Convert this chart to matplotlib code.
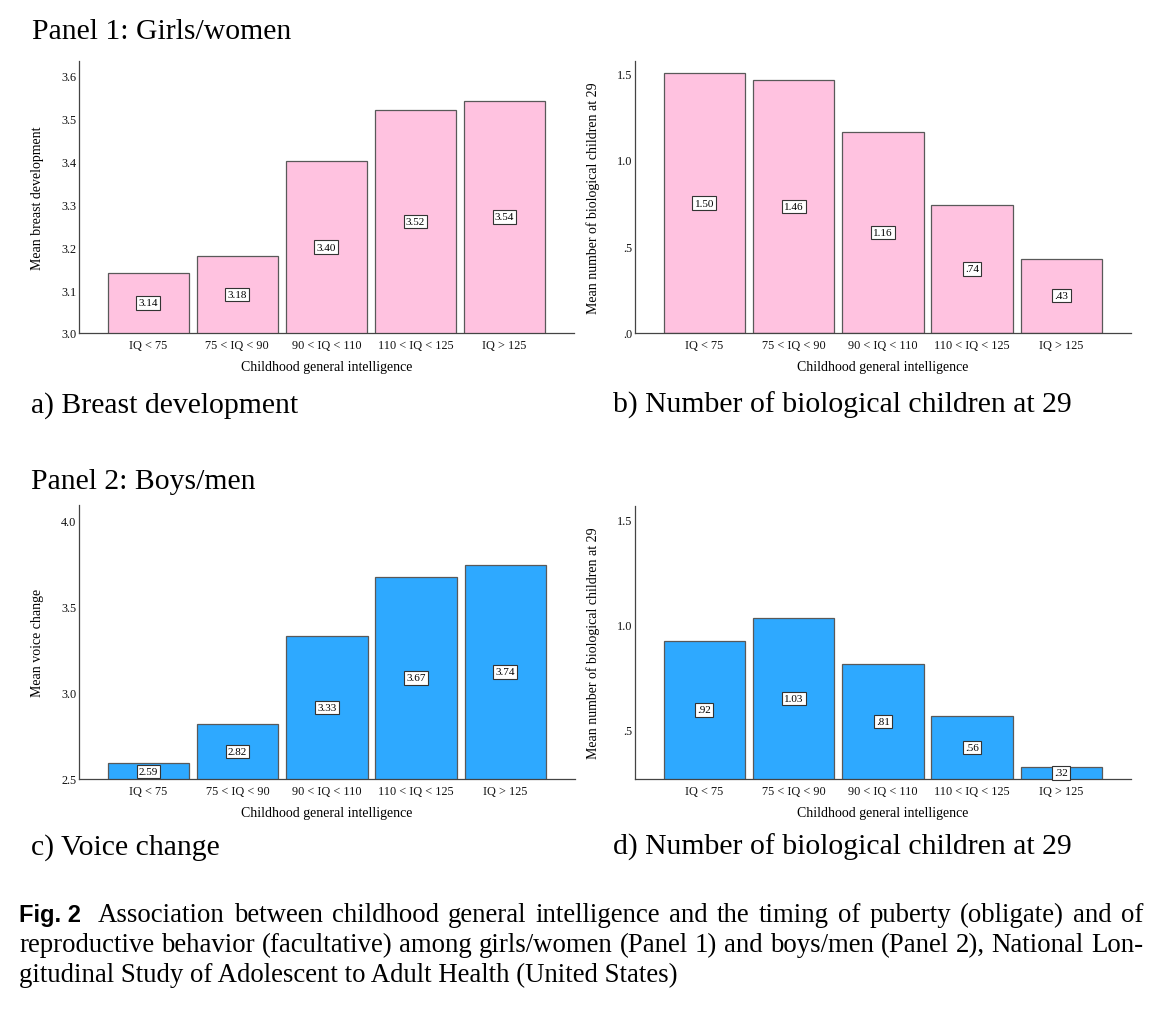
import numpy as np
import matplotlib
matplotlib.use('Agg')
import matplotlib.pyplot as plt

plt.rcParams['font.family'] = ['Liberation Serif', 'DejaVu Serif']

# Data
CATEGORIES = ['IQ < 75', '75 < IQ < 90', '90 < IQ < 110', '110 < IQ < 125', 'IQ > 125']
BREAST = [3.14, 3.18, 3.40, 3.52, 3.54]
CHILDREN_GIRLS = [1.50, 1.46, 1.16, 0.74, 0.43]
VOICE = [2.59, 2.82, 3.33, 3.67, 3.74]
CHILDREN_BOYS = [0.92, 1.03, 0.81, 0.56, 0.32]

PINK = '#ffc2e0'
BLUE = '#2ea9ff'
EDGE = '#595959'

W, H = 1162, 1012
fig = plt.figure(figsize=(W / 100, H / 100), dpi=100)


def px_axes(left, top, right, bottom):
    """Axes from pixel box (top-left origin)"""
    return fig.add_axes([left / W, 1 - bottom / H, (right - left) / W, (bottom - top) / H])


def fmt(v):
    s = f'{v:.2f}'
    return s[1:] if s.startswith('0') else s


def fmt_tick(v):
    s = f'{v:.1f}'
    return s[1:] if s.startswith('0') else s


def bar_panel(ax, values, color, ylim, yticks, ylabel, xlab_y):
    x = np.arange(len(CATEGORIES))
    ax.bar(x, values, width=0.913, color=color, edgecolor=EDGE, linewidth=0.9, zorder=2)
    ax.set_xlim(-0.777, 4.78)
    ax.set_ylim(*ylim)
    ax.set_yticks(yticks)
    ax.set_yticklabels([fmt_tick(t) for t in yticks])
    ax.set_xticks(x)
    ax.set_xticklabels(CATEGORIES)
    ax.tick_params(axis='both', length=0, labelsize=8.8, colors='#111111')
    ax.tick_params(axis='x', pad=4)
    ax.tick_params(axis='y', pad=2)
    for side in ['top', 'right']:
        ax.spines[side].set_visible(False)
    for side in ['left', 'bottom']:
        ax.spines[side].set_color('#444444')
        ax.spines[side].set_linewidth(0.9)

    ax.set_ylabel(ylabel, fontsize=10)
    ax.yaxis.set_label_coords(-0.071, 0.5)
    ax.set_xlabel('Childhood general intelligence', fontsize=10)
    ax.xaxis.label.set_va('center')
    ax.xaxis.set_label_coords(0.5, xlab_y)

    # value labels in the middle of the visible bar
    for xi, v in zip(x, values):
        ax.text(xi, (ylim[0] + v) / 2, fmt(v), ha='center', va='center', fontsize=8,
                zorder=3,
                bbox=dict(boxstyle='square,pad=0.2', facecolor='white',
                          edgecolor='#333333', linewidth=0.8))


ax_a = px_axes(79, 62, 574, 334)
bar_panel(ax_a, BREAST, PINK, (3.0, 3.633), np.arange(3.0, 3.61, 0.1),
          'Mean breast development', -0.125)

ax_b = px_axes(635, 62, 1131, 334)
bar_panel(ax_b, CHILDREN_GIRLS, PINK, (0.0, 1.57), [0.0, 0.5, 1.0, 1.5],
          'Mean number of biological children at 29', -0.125)

ax_c = px_axes(79, 506, 575, 780)
bar_panel(ax_c, VOICE, BLUE, (2.5, 4.087), [2.5, 3.0, 3.5, 4.0],
          'Mean voice change', -0.121)

ax_d = px_axes(635, 507, 1131, 780)
bar_panel(ax_d, CHILDREN_BOYS, BLUE, (0.262, 1.562), [0.5, 1.0, 1.5],
          'Mean number of biological children at 29', -0.121)


def fig_text(xpx, ypx, s, **kw):
    return fig.text(xpx / W, 1 - ypx / H, s, va='baseline', ha='left', **kw)


TITLE_SIZE = 21.4
fig_text(32, 39, 'Panel 1: Girls/women', fontsize=TITLE_SIZE)
fig_text(31, 413, 'a) Breast development', fontsize=TITLE_SIZE)
fig_text(613, 413, 'b) Number of biological children at 29', fontsize=TITLE_SIZE)
fig_text(31, 489, 'Panel 2: Boys/men', fontsize=TITLE_SIZE)
fig_text(31, 855, 'c) Voice change', fontsize=TITLE_SIZE)
fig_text(613, 855, 'd) Number of biological children at 29', fontsize=TITLE_SIZE)

# Caption, justified lines
CAPTION_LINES = [
    'Association between childhood general intelligence and the timing of puberty (obligate) and of',
    'reproductive behavior (facultative) among girls/women (Panel 1) and boys/men (Panel 2), National Lon-',
    'gitudinal Study of Adolescent to Adult Health (United States)',
]
CAP_SIZE = 19.25
renderer = fig.canvas.get_renderer()


def justified_line(words, x0, x1, ybase, first=None):
    items = []
    extra = 0
    if first is not None:
        items.append(fig_text(x0, ybase, first, fontsize=17,
                              family=['Liberation Sans Narrow', 'Liberation Sans'],
                              fontweight='bold'))
        extra = 8  # wider gap after the figure number
    for w in words:
        items.append(fig_text(x0, ybase, w, fontsize=CAP_SIZE))
    widths = [t.get_window_extent(renderer).width for t in items]
    gap = (x1 - x0 - sum(widths) - extra) / (len(items) - 1)
    x = x0
    for i, (t, wd) in enumerate(zip(items, widths)):
        t.set_x(x / W)
        x += wd + gap + (extra if i == 0 else 0)


justified_line(CAPTION_LINES[0].split(), 19, 1143, 922, first='Fig. 2')
justified_line(CAPTION_LINES[1].split(), 19, 1143, 952)
fig_text(19, 982, CAPTION_LINES[2], fontsize=CAP_SIZE)

fig.savefig('out.png', dpi=100)
